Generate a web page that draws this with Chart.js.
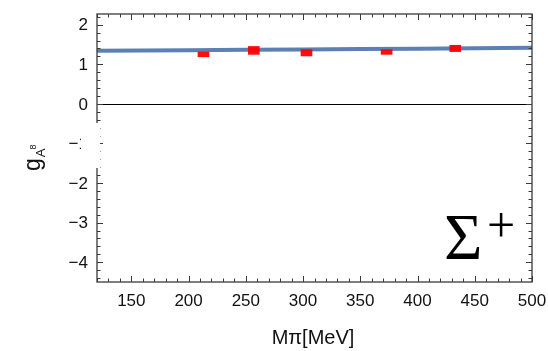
<!DOCTYPE html>
<html>
<head>
<meta charset="utf-8">
<script src="https://cdn.jsdelivr.net/npm/chart.js@4/dist/chart.umd.min.js"></script>
<style>
  html, body { margin: 0; padding: 0; background: #fff; }
  #wrap { width: 548px; height: 351px; }
</style>
</head>
<body>
<div id="wrap"><canvas id="chart" width="548" height="351"></canvas></div>
<script>
// lattice points: pion mass, central value, error
const pionMass = [213, 257, 303, 373, 433];
const gA8Central = [1.25, 1.35, 1.29, 1.31, 1.40];
const gA8Error = [0.06, 0.10, 0.08, 0.06, 0.08];

// fit curve
const fitMass = [120, 200, 300, 400, 500];
const fitValue = [1.34, 1.355, 1.375, 1.395, 1.415];

const xTicks = [150, 200, 250, 300, 350, 400, 450, 500];
const yTicks = [2, 1, 0, -1, -2, -3, -4];
const yTickLabels = ['2', '1', '0', '\u22121', '\u22122', '\u22123', '\u22124'];

const X_MIN = 120, X_MAX = 500;
const Y_MIN = -4.5, Y_MAX = 2.27;

const frameColor = '#3a3a3a';

// frame, inward ticks, tick labels, titles
const framePlugin = {
    id: 'frame',
    beforeDatasetsDraw(chart) {
        const { ctx, chartArea: a, scales } = chart;
        const y0 = scales.y.getPixelForValue(0);
        ctx.save();
        ctx.strokeStyle = '#000';
        ctx.lineWidth = 1;
        ctx.beginPath();
        ctx.moveTo(a.left, Math.round(y0) + 0.5);
        ctx.lineTo(a.right, Math.round(y0) + 0.5);
        ctx.stroke();
        ctx.restore();
    },
    afterDatasetsDraw(chart) {
        const { ctx, chartArea: a, scales } = chart;
        const xs = scales.x, ys = scales.y;
        ctx.save();
        ctx.strokeStyle = frameColor;
        ctx.lineWidth = 1.3;
        ctx.strokeRect(a.left, a.top, a.right - a.left, a.bottom - a.top);

        ctx.lineWidth = 1;
        ctx.beginPath();
        for (let v = X_MIN; v <= X_MAX; v += 10) {
            const px = Math.round(xs.getPixelForValue(v)) + 0.5;
            const len = v % 50 === 0 ? 6 : 3.5;
            ctx.moveTo(px, a.bottom); ctx.lineTo(px, a.bottom - len);
            ctx.moveTo(px, a.top); ctx.lineTo(px, a.top + len);
        }
        for (let i = -22; i <= 11; i++) {
            const v = i * 0.2;
            if (v < Y_MIN || v > Y_MAX) continue;
            const py = Math.round(ys.getPixelForValue(v)) + 0.5;
            const len = i % 5 === 0 ? 6 : 3.5;
            ctx.moveTo(a.left, py); ctx.lineTo(a.left + len, py);
            ctx.moveTo(a.right, py); ctx.lineTo(a.right - len, py);
        }
        ctx.stroke();

        ctx.fillStyle = '#111';
        ctx.font = '17px "Liberation Sans", Arial, sans-serif';
        ctx.textAlign = 'right';
        ctx.textBaseline = 'middle';
        yTicks.forEach((v, i) => {
            ctx.fillText(yTickLabels[i], a.left - 9, ys.getPixelForValue(v) + 1);
        });
        ctx.textAlign = 'center';
        ctx.textBaseline = 'top';
        xTicks.forEach(v => {
            ctx.fillText(String(v), xs.getPixelForValue(v), a.bottom + 11);
        });

        // x title
        ctx.font = '20px "Liberation Sans", Arial, sans-serif';
        ctx.textBaseline = 'middle';
        ctx.fillText('M\u03c0[MeV]', 313, 338);

        // white box left of the axis where the y title sits
        ctx.fillStyle = '#fff';
        ctx.fillRect(81, 123, 19, 45);

        // y title g_{A^8}
        ctx.save();
        ctx.translate(40, 171);
        ctx.rotate(-Math.PI / 2);
        ctx.fillStyle = '#111';
        ctx.textAlign = 'left';
        ctx.textBaseline = 'alphabetic';
        ctx.font = '23px "Liberation Sans", Arial, sans-serif';
        ctx.fillText('g', 0, 0);
        const gw = ctx.measureText('g').width;
        ctx.font = '13px "Liberation Sans", Arial, sans-serif';
        ctx.fillText('A', gw + 1, 5);
        const aw = ctx.measureText('A').width;
        ctx.font = '9px "Liberation Sans", Arial, sans-serif';
        ctx.fillText('8', gw + aw, -4);
        ctx.restore();

        // particle label
        ctx.fillStyle = '#000';
        ctx.textAlign = 'left';
        ctx.textBaseline = 'alphabetic';
        ctx.font = '66px "Liberation Serif", "Times New Roman", serif';
        ctx.fillText('\u03a3', 444, 259);
        ctx.font = '50px "Liberation Serif", "Times New Roman", serif';
        ctx.fillText('+', 487, 242);
        ctx.restore();
    }
};

const errorBars = pionMass.map((m, i) => ({
    x: m,
    y: [gA8Central[i] - gA8Error[i], gA8Central[i] + gA8Error[i]]
}));
const fitPoints = fitMass.map((m, i) => ({ x: m, y: fitValue[i] }));

new Chart(document.getElementById('chart'), {
    type: 'bar',
    data: {
        datasets: [
            {
                type: 'bar',
                data: errorBars,
                backgroundColor: 'rgba(255, 0, 0, 0.95)',
                borderWidth: 0,
                barThickness: 11,
                order: 0
            },
            {
                type: 'line',
                data: fitPoints,
                borderColor: 'rgb(92, 127, 180)',
                borderWidth: 4,
                pointRadius: 0,
                tension: 0.4,
                order: 1
            }
        ]
    },
    options: {
        responsive: false,
        animation: false,
        events: [],
        layout: { padding: { left: 97, right: 16, top: 14, bottom: 69 } },
        plugins: { legend: { display: false }, tooltip: { enabled: false } },
        scales: {
            x: { type: 'linear', min: X_MIN, max: X_MAX, display: false, offset: false },
            y: { type: 'linear', min: Y_MIN, max: Y_MAX, display: false }
        }
    },
    plugins: [framePlugin]
});
</script>
</body>
</html>
